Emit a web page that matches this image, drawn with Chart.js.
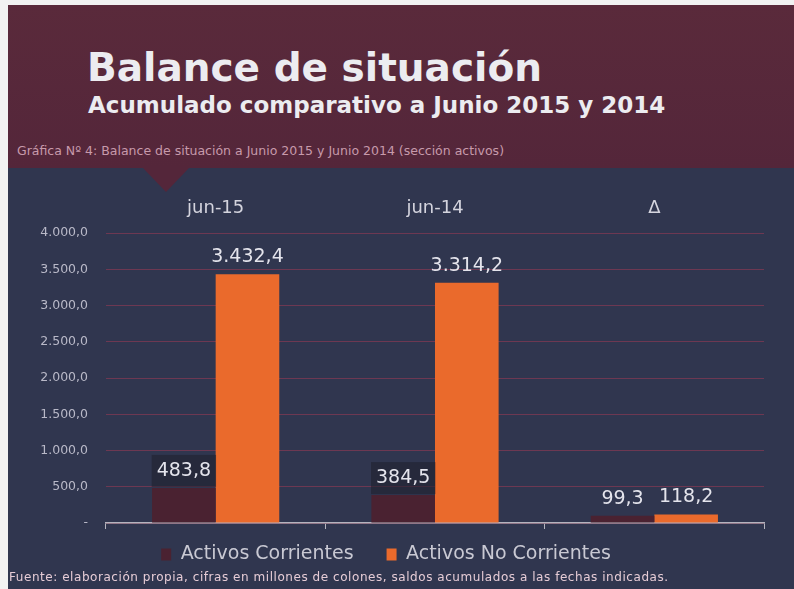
<!DOCTYPE html>
<html>
<head>
<meta charset="utf-8">
<script src="https://cdn.jsdelivr.net/npm/chart.js@4.4.0/dist/chart.umd.min.js"></script>
<style>
  html, body { margin: 0; padding: 0; }
  body { width: 794px; height: 589px; position: relative; overflow: hidden; background: #f2f2f2; font-family: "DejaVu Sans", sans-serif; }
  #slide { position: absolute; left: 8px; top: 5px; right: 0; bottom: 0; background: #30364f; }
  #band { position: absolute; left: 8px; top: 5px; right: 0; height: 163px; background: linear-gradient(180deg, #5a2a3b 0%, #54263a 100%); }
  #notch { position: absolute; left: 143px; top: 168px; width: 0; height: 0;
           border-left: 23px solid transparent; border-right: 23px solid transparent; border-top: 24px solid #54263a; }
  #title { position: absolute; left: 87px; top: 45px; color: #ececf0; font-size: 39px; font-weight: bold; white-space: nowrap; }
  #subtitle { position: absolute; left: 88px; top: 92px; color: #ececf0; font-size: 23px; font-weight: bold; white-space: nowrap; }
  #caption { position: absolute; left: 17px; top: 143px; color: #c79aab; font-size: 12.5px; white-space: nowrap; }
  #footer { position: absolute; left: 9px; top: 570px; color: #e6ccd6; font-size: 12px; letter-spacing: 0.55px; white-space: nowrap; }
  canvas { position: absolute; left: 0; top: 0; }
</style>
</head>
<body>
<div id="slide"></div>
<div id="band"></div>
<div id="notch"></div>
<div id="title">Balance de situación</div>
<div id="subtitle">Acumulado comparativo a Junio 2015 y 2014</div>
<div id="caption">Gráfica Nº 4: Balance de situación a Junio 2015 y Junio 2014 (sección activos)</div>
<canvas id="chart" width="794" height="589"></canvas>
<div id="footer">Fuente: elaboración propia, cifras en millones de colones, saldos acumulados a las fechas indicadas.</div>
<script>
const categories = ['jun-15', 'jun-14', 'Δ'];
const activosCorrientes = [483.8, 384.5, 99.3];
const activosNoCorrientes = [3432.4, 3314.2, 118.2];
const yTicks = [0, 500, 1000, 1500, 2000, 2500, 3000, 3500, 4000];

function fmt(v, dec) {
    const parts = v.toFixed(dec).split('.');
    parts[0] = parts[0].replace(/\B(?=(\d{3})+(?!\d))/g, '.');
    return parts.join(',');
}

// value labels above each bar
const barLabels = {
    id: 'barLabels',
    afterDatasetsDraw(chart) {
        const ctx = chart.ctx;
        ctx.save();
        ctx.font = '19px "DejaVu Sans", sans-serif';
        ctx.textAlign = 'center';
        ctx.textBaseline = 'middle';
        chart.data.datasets.forEach(function (ds, i) {
            chart.getDatasetMeta(i).data.forEach(function (bar, j) {
                const txt = fmt(ds.data[j], 1);
                const y = bar.y - 17;
                if (i === 0 && j < 2) {
                    const w = ctx.measureText(txt).width + 10;
                    ctx.fillStyle = 'rgba(32, 34, 46, 0.6)';
                    ctx.fillRect(bar.x - w / 2, y - 16, w, 32);
                }
                ctx.fillStyle = '#e4e4ec';
                ctx.fillText(txt, bar.x, y);
            });
        });
        ctx.restore();
    }
};

new Chart(document.getElementById('chart'), {
    type: 'bar',
    data: {
        labels: categories,
        datasets: [
            {
                label: 'Activos Corrientes',
                data: activosCorrientes,
                backgroundColor: '#4a2231',
                barPercentage: 1,
                categoryPercentage: 0.58
            },
            {
                label: 'Activos No Corrientes',
                data: activosNoCorrientes,
                backgroundColor: '#ea6a2c',
                barPercentage: 1,
                categoryPercentage: 0.58
            }
        ]
    },
    options: {
        responsive: false,
        animation: false,
        layout: { padding: { left: 8, right: 30, top: 188, bottom: 15 } },
        plugins: {
            legend: {
                position: 'bottom',
                labels: {
                    color: '#c9c9d3',
                    font: { family: '"DejaVu Sans", sans-serif', size: 19 },
                    boxWidth: 10,
                    boxHeight: 12,
                    padding: 14,
                    // wider gap between the two items, like the original slide
                    generateLabels(chart) {
                        const items = Chart.defaults.plugins.legend.labels.generateLabels(chart);
                        items[0].text += '\u2003';
                        return items;
                    }
                }
            },
            tooltip: { enabled: false }
        },
        scales: {
            x: {
                position: 'bottom',
                offset: true,
                ticks: { display: false },
                grid: { display: true, drawOnChartArea: false, offset: true, color: '#b4b4be', tickLength: 6 },
                border: { color: '#b4b4be', width: 1.5 },
                afterFit(scale) { scale.height = 8; }
            },
            x2: {
                type: 'category',
                position: 'top',
                offset: true,
                grid: { display: false, drawTicks: false },
                border: { display: false },
                ticks: {
                    color: '#d4d4de',
                    padding: 14,
                    font: { family: '"DejaVu Sans", sans-serif', size: 18 }
                },
                afterFit(scale) { scale.height = 45; }
            },
            y: {
                min: 0,
                max: 4000,
                afterBuildTicks(scale) { scale.ticks = yTicks.map(v => ({ value: v })); },
                grid: { color: 'rgba(125, 58, 82, 0.8)', drawTicks: false },
                border: { display: false },
                ticks: {
                    color: '#b9b9c8',
                    padding: 18,
                    font: { family: '"DejaVu Sans", sans-serif', size: 12.5 },
                    callback: v => v === 0 ? '-' : fmt(v, 1)
                },
                afterFit(scale) { scale.width = 98; }
            }
        }
    },
    plugins: [barLabels]
});
</script>
</body>
</html>
